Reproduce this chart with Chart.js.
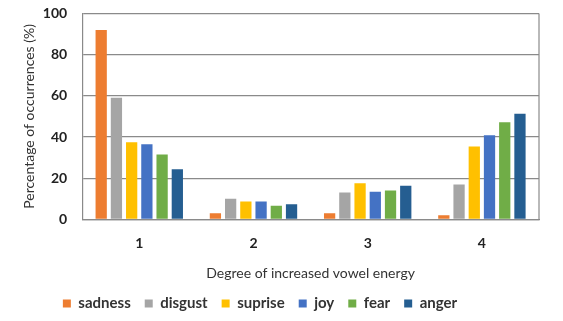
<!DOCTYPE html>
<html>
<head>
<meta charset="utf-8">
<script src="https://cdn.jsdelivr.net/npm/chart.js@4"></script>
<style>
  html, body { margin: 0; padding: 0; background: #fff; }
  #wrap { width: 563px; height: 321px; position: relative; }
</style>
</head>
<body>
<div id="wrap"><canvas id="chart"></canvas></div>
<script>
const categories = ['1', '2', '3', '4'];
const sadness = [92, 3, 3, 2];
const disgust = [59, 10, 13, 17];
const suprise = [37.5, 8.7, 17.5, 35.4];
const joy = [36.5, 8.7, 13.4, 40.8];
const fear = [31.5, 6.6, 14, 47.2];
const anger = [24.3, 7.3, 16.3, 51.3];
const yTicks = [0, 20, 40, 60, 80, 100];

const FONT = 'Lato, "Open Sans", sans-serif';
const GRID = '#8a8a8a';

// box around the plot area (right side is not drawn by the scales)
const frame = {
  id: 'frame',
  afterLayout(chart) {
    // legend sits a bit left of centre in the original
    const lg = chart.legend;
    if (lg) { lg.left -= 20; lg.right -= 20; }
  },
  afterDraw(chart) {
    const { ctx, chartArea: a } = chart;
    ctx.save();
    ctx.strokeStyle = GRID;
    ctx.lineWidth = 1.2;
    ctx.beginPath();
    ctx.moveTo(a.right, a.top);
    ctx.lineTo(a.right, a.bottom);
    ctx.stroke();
    ctx.restore();
  }
};

const mk = (label, data, color) => ({
  label, data, backgroundColor: color, borderWidth: 0,
  barPercentage: 0.74, categoryPercentage: 0.8
});

new Chart(document.getElementById('chart'), {
  type: 'bar',
  data: {
    labels: categories,
    datasets: [
      mk('sadness', sadness, '#ED7D31'),
      mk('disgust', disgust, '#A5A5A5'),
      mk('suprise', suprise, '#FFC000'),
      mk('joy', joy, '#4472C4'),
      mk('fear', fear, '#70AD47'),
      mk('anger', anger, '#255E91')
    ]
  },
  options: {
    responsive: true,
    maintainAspectRatio: false,
    animation: false,
    layout: { padding: { top: 0, right: 24, bottom: 0, left: 21 } },
    plugins: {
      legend: {
        position: 'bottom',
        labels: {
          usePointStyle: true,
          pointStyle: 'rect',
          boxWidth: 8,
          boxHeight: 8,
          padding: 14,
          color: '#333',
          font: { family: FONT, size: 15, weight: 'bold' }
        }
      },
      tooltip: { enabled: false }
    },
    scales: {
      x: {
        grid: { display: false, drawTicks: false },
        border: { color: GRID, width: 1.2 },
        ticks: { color: '#222', padding: 16, font: { family: FONT, size: 14, weight: 'bold' } },
        title: {
          display: true,
          text: 'Degree of increased vowel energy',
          color: '#333',
          padding: { top: -3, bottom: 0 },
          font: { family: FONT, size: 14 }
        }
      },
      y: {
        min: 0,
        max: 100,
        afterBuildTicks: (axis) => { axis.ticks = yTicks.map(v => ({ value: v })); },
        grid: { color: GRID, lineWidth: 1.2, drawTicks: true, tickLength: 10, tickColor: 'rgba(0,0,0,0)' },
        border: { color: GRID, width: 1.2 },
        ticks: { color: '#222', padding: 5, font: { family: FONT, size: 14, weight: 'bold' } },
        title: {
          display: true,
          text: 'Percentage of occurrences (%)',
          color: '#333',
          padding: { top: 0, bottom: 0 },
          font: { family: FONT, size: 14 }
        }
      }
    }
  },
  plugins: [frame]
});
</script>
</body>
</html>
